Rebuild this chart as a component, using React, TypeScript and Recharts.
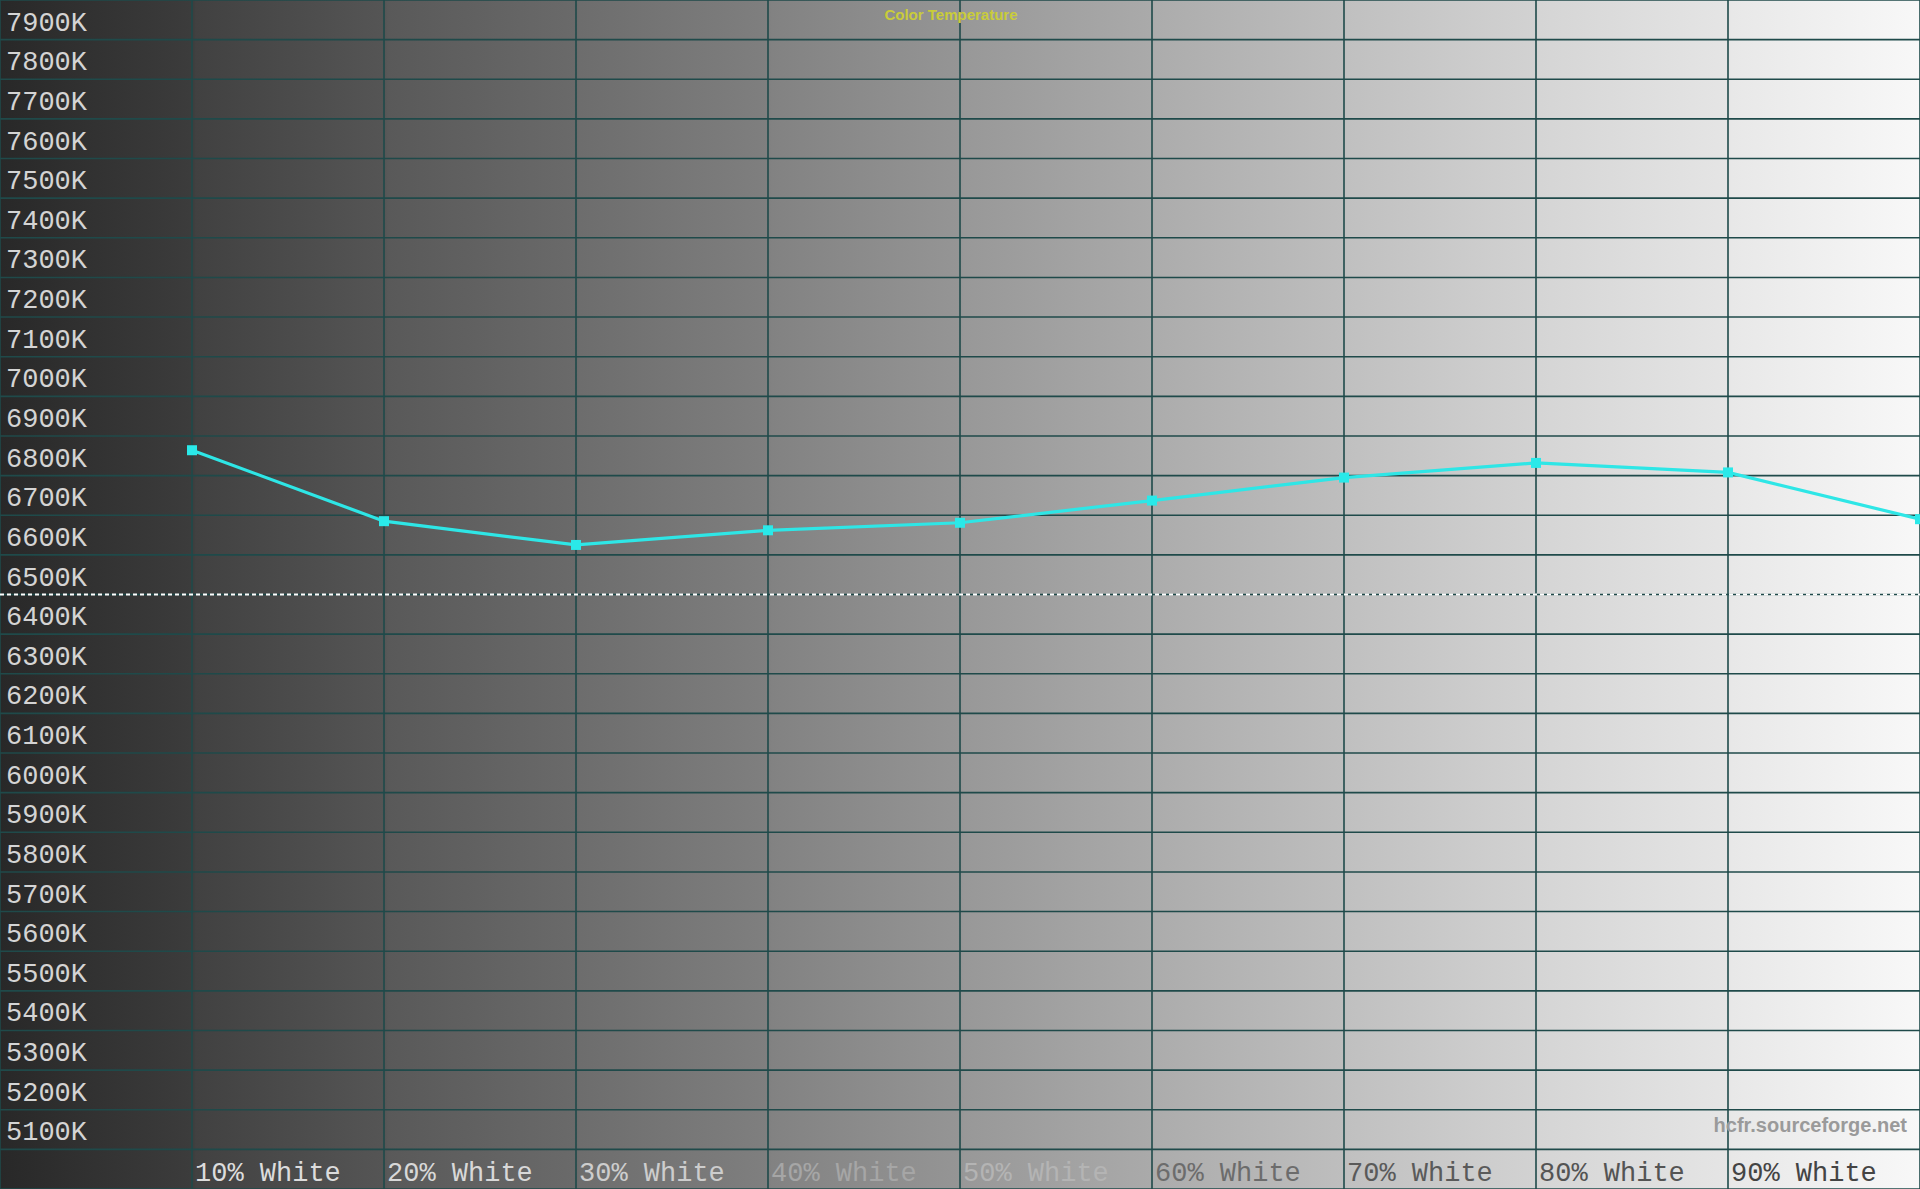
import React from "react";
import {
  LineChart,
  Line,
  XAxis,
  YAxis,
  CartesianGrid,
  ReferenceLine,
} from "recharts";

// Measured points (percent stimulus -> correlated colour temperature)
const levels = [10, 20, 30, 40, 50, 60, 70, 80, 90, 100];
const colorTemps = [6864, 6685, 6625, 6662, 6681, 6737, 6795, 6832, 6808, 6690];

// Axis ticks and labels
const xTicks = [10, 20, 30, 40, 50, 60, 70, 80, 90];
const xLabels = [
  "10% White",
  "20% White",
  "30% White",
  "40% White",
  "50% White",
  "60% White",
  "70% White",
  "80% White",
  "90% White",
];
const yTicks = [
  5100, 5200, 5300, 5400, 5500, 5600, 5700, 5800, 5900, 6000, 6100, 6200, 6300,
  6400, 6500, 6600, 6700, 6800, 6900, 7000, 7100, 7200, 7300, 7400, 7500, 7600,
  7700, 7800, 7900,
];
const target = 6500;

// label colours follow the grey patches
const xLabelColors = [
  "#dcdcdc",
  "#d8d8d8",
  "#cdcdcd",
  "#a6a6a6",
  "#b4b4b4",
  "#6c6c6c",
  "#5a5a5a",
  "#545454",
  "#444444",
];

const W = 1920;
const H = 1189;

const data = levels.map((lvl, i) => ({ level: lvl, cct: colorTemps[i] }));

const background =
  "linear-gradient(to right, #282828 0%, #3c3c3c 10%, #414141 10.2%, #555555 20%, #595959 20.2%, #6a6a6a 30%, #6d6d6d 30.2%, #7f7f7f 40%, #828282 40.2%, #959595 50%, #989898 50.2%, #aaaaaa 60%, #acacac 60.2%, #bebebe 70%, #c0c0c0 70.2%, #d2d2d2 80%, #d5d5d5 80.2%, #e5e5e5 90%, #e8e8e8 90.2%, #f8f8f8 100%)";

const monoFont = "'Liberation Mono', 'DejaVu Sans Mono', monospace";

const XTick = (props: any) => {
  const { x, payload } = props;
  const idx = xTicks.indexOf(payload.value);
  return (
    <text
      x={x + 3}
      y={H - 8}
      fill={xLabelColors[idx] || "#888"}
      fontFamily={monoFont}
      fontSize={27}
      textAnchor="start"
    >
      {xLabels[idx]}
    </text>
  );
};

const YTick = (props: any) => {
  const { y, payload } = props;
  return (
    <text
      x={6}
      y={y - 9}
      fill="#d4d4d4"
      fontFamily={monoFont}
      fontSize={27}
      textAnchor="start"
    >
      {payload.value}K
    </text>
  );
};

const SquareDot = (props: any) => {
  const { cx, cy, index } = props;
  if (cx == null || cy == null) return null;
  return (
    <rect
      key={`dot-${index}`}
      x={cx - 5}
      y={cy - 5}
      width={10}
      height={10}
      fill="#2ae9e9"
    />
  );
};

export default function App() {
  return (
    <div
      style={{
        position: "absolute",
        left: 0,
        top: 0,
        width: W,
        height: H,
        background,
        overflow: "hidden",
      }}
    >
      <LineChart
        width={W}
        height={H}
        data={data}
        margin={{ top: 0, right: 0, bottom: 0, left: 0 }}
      >
        <CartesianGrid stroke="#1f4a4a" strokeWidth={1.6} />
        <XAxis
          type="number"
          dataKey="level"
          domain={[0, 100]}
          ticks={xTicks}
          mirror
          axisLine={false}
          tickLine={false}
          tick={<XTick />}
          interval={0}
        />
        <YAxis
          type="number"
          domain={[5000, 8000]}
          ticks={yTicks}
          mirror
          axisLine={false}
          tickLine={false}
          tick={<YTick />}
          interval={0}
        />
        <ReferenceLine
          y={target}
          stroke="#ffffff"
          strokeWidth={2}
          strokeDasharray="4 3"
        />
        <Line
          type="linear"
          dataKey="cct"
          stroke="#2ee6e6"
          strokeWidth={3.2}
          dot={<SquareDot />}
          activeDot={false}
          isAnimationActive={false}
        />
      </LineChart>
      <div
        style={{
          position: "absolute",
          left: 0,
          width: 1902,
          top: 6,
          textAlign: "center",
          fontFamily: "'Liberation Sans', Arial, sans-serif",
          fontWeight: "bold",
          fontSize: 15,
          color: "#c9cc3a",
        }}
      >
        Color Temperature
      </div>
      <div
        style={{
          position: "absolute",
          right: 13,
          top: 1114,
          fontFamily: "'Liberation Sans', Arial, sans-serif",
          fontWeight: "bold",
          fontSize: 20,
          color: "#9a9a9a",
        }}
      >
        hcfr.sourceforge.net
      </div>
    </div>
  );
}
